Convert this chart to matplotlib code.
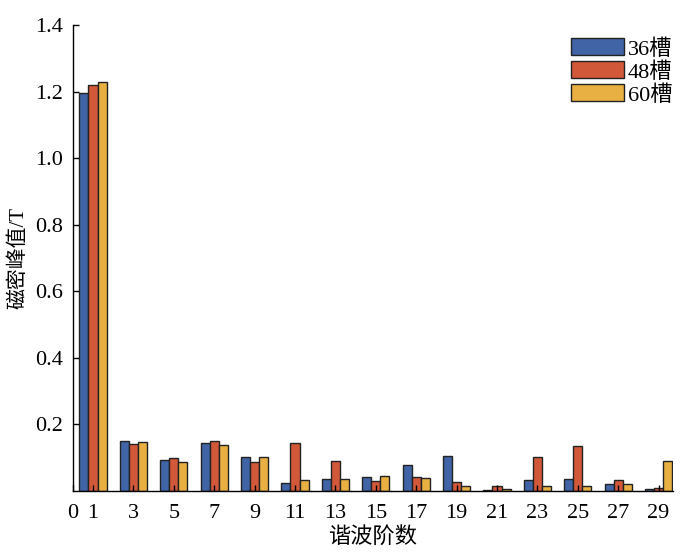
import numpy as np
import matplotlib.pyplot as plt

plt.rcParams['font.family'] = ['Liberation Serif', 'Noto Sans CJK SC']

# Consts
BLUE = '#4064a6'
RED = '#d2583a'
YELLOW = '#e8b043'

harmonics = [1, 3, 5, 7, 9, 11, 13, 15, 17, 19, 21, 23, 25, 27, 29]
slot36 = [1.195, 0.151, 0.092, 0.145, 0.103, 0.024, 0.036, 0.043, 0.078, 0.106,
          0.004, 0.032, 0.036, 0.022, 0.005]
slot48 = [1.219, 0.142, 0.100, 0.150, 0.088, 0.143, 0.090, 0.029, 0.041, 0.026,
          0.015, 0.101, 0.134, 0.032, 0.008]
slot60 = [1.228, 0.146, 0.088, 0.139, 0.102, 0.032, 0.035, 0.044, 0.040, 0.016,
          0.007, 0.014, 0.015, 0.020, 0.091]
labels = ['36槽', '48槽', '60槽']
xticks = [0] + harmonics
yticks = [0.2, 0.4, 0.6, 0.8, 1.0, 1.2, 1.4]


def main() -> None:
	fig = plt.figure(figsize=(7, 5.58), dpi=100)
	ax = fig.add_axes([0.104, 0.12, 0.857, 0.835])

	x = np.array(harmonics)
	w = 0.45
	for i, (vals, col, lab) in enumerate(zip([slot36, slot48, slot60], [BLUE, RED, YELLOW], labels)):
		ax.bar(x + (i - 1) * w, vals, width=w, color=col, edgecolor='#222222',
		       linewidth=1.0, label=lab)

	ax.set_xlim(0, 29.7)
	ax.set_ylim(0, 1.4)
	ax.set_xticks(xticks)
	ax.set_yticks(yticks)
	ax.set_yticklabels(['%.1f' % v for v in yticks])
	ax.tick_params(direction='in', length=4, labelsize=16, width=1)
	ax.tick_params(axis='x', pad=9)
	ax.tick_params(axis='y', pad=7)
	ax.spines['top'].set_visible(False)
	ax.spines['right'].set_visible(False)
	for s in ['left', 'bottom']:
		ax.spines[s].set_linewidth(1.0)

	ax.set_xlabel('谐波阶数', fontsize=16, labelpad=3)
	ax.set_ylabel('磁密峰值/T', fontsize=15, labelpad=5)

	ax.legend(loc='upper right', bbox_to_anchor=(1.025, 1.005), frameon=False,
	          fontsize=16, handlelength=2.4, handleheight=0.8, handletextpad=0.15,
	          labelspacing=0.08, borderpad=0.2)

	fig.savefig('out.png', dpi=100)


if __name__ == '__main__':
	main()
